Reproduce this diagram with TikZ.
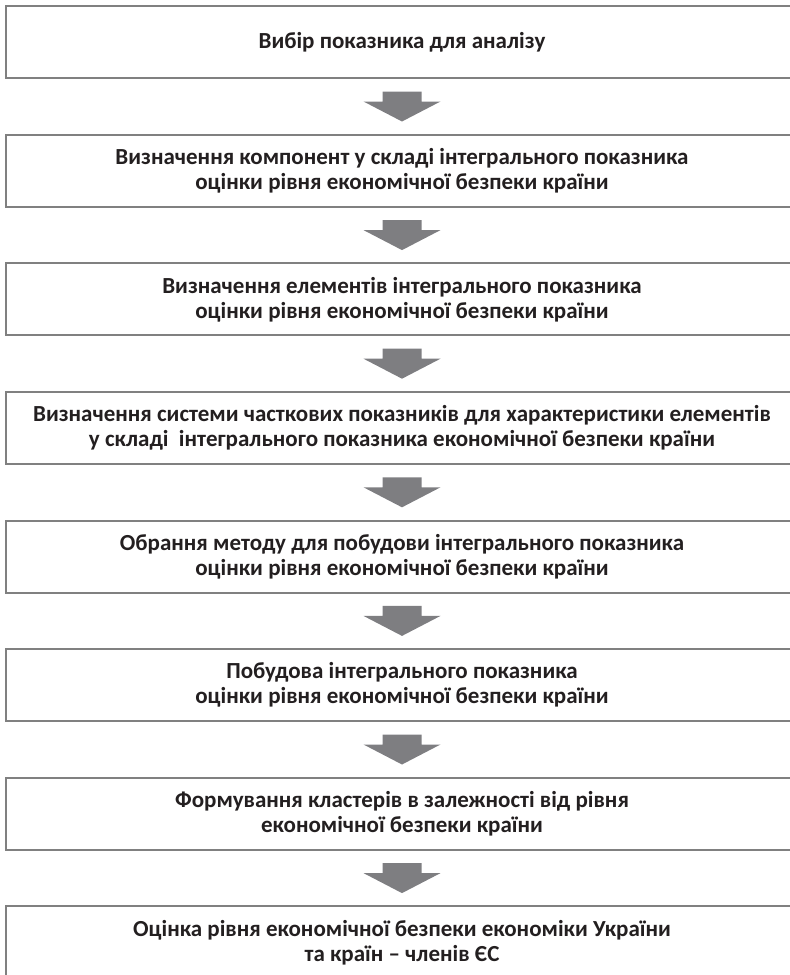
\documentclass[tikz,border=0pt]{standalone}
\usepackage{fontspec}
\setmainfont{Carlito}
\usetikzlibrary{positioning,matrix}

\definecolor{framegray}{RGB}{128,128,128}
\definecolor{pointergray}{RGB}{126,126,129}
\definecolor{inkgray}{RGB}{35,31,32}

\begin{document}
\begin{tikzpicture}
          [x=1pt, y=1pt,
          stage/.style={draw=framegray, line width=2pt, rectangle, outer sep=0pt,
              minimum width=792pt, minimum height=72pt, align=center,
              text=inkgray, font=\fontsize{23}{25}\selectfont\bfseries},
          pointer/.pic={\fill [pointergray] (-19.5,15) -- (19.5,15) -- (19.5,5) -- (38.5,5)
              -- (0,-15) -- (-38.5,5) -- (-19.5,5) -- cycle;}]

          \path [use as bounding box, clip] (0,0) rectangle (790,-975);

          \matrix [row sep=54.6pt, inner sep=0pt, anchor=north] at (402,-5)
          {
              \node [stage] (choice) {Вибір показника для аналізу};\\
              \node [stage] (components) {Визначення компонент у складі інтегрального показника\\оцінки рівня економічної безпеки країни};\\
              \node [stage] (elements) {Визначення елементів інтегрального показника\\оцінки рівня економічної безпеки країни};\\
              \node [stage] (partial) {Визначення системи часткових показників для характеристики елементів\\у складі~ інтегрального показника економічної безпеки країни};\\
              \node [stage] (method) {Обрання методу для побудови інтегрального показника\\оцінки рівня економічної безпеки країни};\\
              \node [stage] (building) {Побудова інтегрального показника\\оцінки рівня економічної безпеки країни};\\
              \node [stage] (clusters) {Формування кластерів в залежності від рівня\\економічної безпеки країни};\\
              \node [stage] (assessment) {Оцінка рівня економічної безпеки економіки України\\та країн – членів ЄС};\\
          };
          \begin{scope}
              \path (choice) -- pic [midway] {pointer} (components);
              \path (components) -- pic [midway] {pointer} (elements);
              \path (elements) -- pic [midway] {pointer} (partial);
              \path (partial) -- pic [midway] {pointer} (method);
              \path (method) -- pic [midway] {pointer} (building);
              \path (building) -- pic [midway] {pointer} (clusters);
              \path (clusters) -- pic [midway] {pointer} (assessment);
          \end{scope}
  \end{tikzpicture}
\end{document}
